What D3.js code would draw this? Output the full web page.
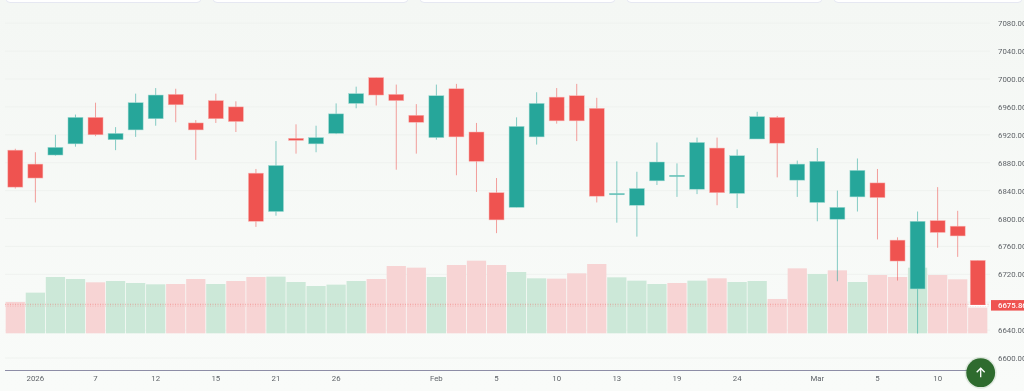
<!DOCTYPE html>
<html>
<head>
<meta charset="utf-8">
<script src="https://cdn.jsdelivr.net/npm/d3@7"></script>
<style>
  html, body { margin: 0; padding: 0; background: #f6f9f6; overflow: hidden; }
  svg { display: block; filter: blur(0.3px); }
  text { font-family: Roboto, "Noto Sans", sans-serif; }
</style>
</head>
<body>
<svg id="chart" width="1024" height="391"></svg>
<script>
const dates = ["Dec 31","Jan 2","Jan 5","Jan 6","Jan 7","Jan 8","Jan 9","Jan 12","Jan 13","Jan 14","Jan 15","Jan 16","Jan 20","Jan 21","Jan 22","Jan 23","Jan 26","Jan 27","Jan 28","Jan 29","Jan 30","Feb 2","Feb 3","Feb 4","Feb 5","Feb 6","Feb 9","Feb 10","Feb 11","Feb 12","Feb 13","Feb 17","Feb 18","Feb 19","Feb 20","Feb 23","Feb 24","Feb 25","Feb 26","Feb 27","Mar 2","Mar 3","Mar 4","Mar 5","Mar 6","Mar 9","Mar 10","Mar 11","Mar 12"];
const open = [6898,6878,6891,6907,6945,6913,6927,6943,6978,6937,6969,6960,6865,6810,6915,6907,6922,6965,7002,6978,6948,6916,6986,6924,6837,6816,6917,6974,6976,6958,6834,6819,6854,6860,6842,6901,6836,6914,6945,6855,6823,6799,6831,6851,6769,6699,6797,6789,6740];
const close = [6845,6858,6902,6945,6920,6922,6966,6977,6963,6927,6943,6939,6796,6876,6912,6916,6950,6979,6977,6969,6938,6976,6917,6882,6798,6932,6965,6940,6940,6832,6836,6843,6881,6862,6909,6837,6890,6946,6908,6878,6882,6816,6869,6830,6739,6796,6780,6775,6675.86];
const high = [6900,6895,6920,6949,6966,6931,6979,6987,6986,6941,6979,6968,6871,6911,6935,6933,6965,6989,7002,6992,6964,6992,6993,6937,6858,6945,6981,6987,6993,6973,6882,6867,6909,6879,6916,6916,6899,6953,6947,6883,6901,6840,6886,6871,6773,6810,6845,6811,6740];
const low = [6843,6823,6890,6903,6918,6898,6917,6933,6938,6884,6937,6924,6788,6804,6893,6895,6921,6958,6962,6870,6893,6913,6862,6838,6779,6816,6906,6936,6911,6823,6794,6774,6848,6831,6835,6819,6815,6914,6859,6831,6796,6710,6810,6770,6711,6635,6758,6745,6675.86];
const volume = [0.94,1.22,1.69,1.63,1.53,1.57,1.51,1.47,1.48,1.63,1.48,1.57,1.69,1.70,1.54,1.42,1.46,1.57,1.63,2.02,1.97,1.69,2.05,2.18,2.05,1.84,1.65,1.64,1.80,2.08,1.68,1.58,1.48,1.51,1.58,1.65,1.54,1.57,1.03,1.95,1.78,1.89,1.54,1.75,1.69,1.97,1.75,1.62,0.77];
const volumeUp = [0,1,1,1,0,1,1,1,0,0,1,0,0,1,1,1,1,1,0,0,0,1,0,0,0,1,1,0,0,0,1,1,1,0,1,0,1,1,0,0,1,0,1,0,0,1,0,0,0];
const priceTicks = [6600,6640,6680,6720,6760,6800,6840,6880,6920,6960,7000,7040,7080];
const dateTicks = ["Jan 2","Jan 7","Jan 12","Jan 15","Jan 21","Jan 26","Feb 2","Feb 5","Feb 10","Feb 13","Feb 19","Feb 24","Mar 2","Mar 5","Mar 10"];
const dateLabels = ["2026","7","12","15","21","26","Feb","5","10","13","19","24","Mar","5","10"];
const lastPrice = 6675.86;
const cardEdges = [[6,201],[213,408],[420,615],[627,822],[834,1022]];

const upColor = "#26a69a", downColor = "#ef5350";
const svg = d3.select("#chart");

// page background, very slightly lighter at the bottom
const grad = svg.append("defs").append("linearGradient")
  .attr("id", "bg").attr("x1", 0).attr("x2", 0).attr("y1", 0).attr("y2", 1);
grad.append("stop").attr("offset", 0).attr("stop-color", "#f4f7f4");
grad.append("stop").attr("offset", 1).attr("stop-color", "#f9fbf9");
svg.append("rect").attr("width", 1024).attr("height", 391).attr("fill", "url(#bg)");

const x = d3.scaleBand().domain(dates).range([5.3, 987.75]).paddingInner(0).paddingOuter(0);
const y = d3.scaleLinear().domain([6600, 7080]).range([358, 23.2]);
const yVol = d3.scaleLinear().domain([0, 2.5]).range([333.3, 250]);
const cx = i => x(dates[i]) + x.bandwidth() / 2;

// cut off cards along the top edge
svg.append("g").selectAll("rect").data(cardEdges).join("rect")
  .attr("x", d => d[0]).attr("y", -10)
  .attr("width", d => d[1] - d[0]).attr("height", 12.5).attr("rx", 4)
  .attr("fill", "#fff").attr("stroke", "#e6e8f2").attr("stroke-width", 1);

// grid
svg.append("g").selectAll("line").data(priceTicks).join("line")
  .attr("x1", 5).attr("x2", 990)
  .attr("y1", d => y(d)).attr("y2", d => y(d))
  .attr("stroke", "#eff2ef").attr("stroke-width", 1);

// volume
svg.append("g").selectAll("rect").data(volume).join("rect")
  .attr("x", (d, i) => x(dates[i]) + 0.4)
  .attr("width", x.bandwidth() - 0.8)
  .attr("y", d => yVol(d))
  .attr("height", d => yVol(0) - yVol(d))
  .attr("fill", (d, i) => volumeUp[i] ? "#cce8d8" : "#f7d4d4");

// last price line
svg.append("line")
  .attr("x1", 5).attr("x2", 990)
  .attr("y1", y(lastPrice) - 0.8).attr("y2", y(lastPrice) - 0.8)
  .attr("stroke", "#ef5350").attr("stroke-opacity", 0.55)
  .attr("stroke-dasharray", "1 1.5").attr("stroke-width", 0.8);
svg.append("line")
  .attr("x1", 5).attr("x2", 990)
  .attr("y1", y(lastPrice) + 1).attr("y2", y(lastPrice) + 1)
  .attr("stroke", "#ef5350").attr("stroke-opacity", 0.3)
  .attr("stroke-dasharray", "1 1.5").attr("stroke-width", 0.8);

// wicks and bodies
const candles = svg.append("g");
candles.selectAll("line").data(dates).join("line")
  .attr("x1", (d, i) => cx(i)).attr("x2", (d, i) => cx(i))
  .attr("y1", (d, i) => y(high[i])).attr("y2", (d, i) => y(low[i]))
  .attr("stroke", (d, i) => close[i] > open[i] ? upColor : downColor)
  .attr("stroke-opacity", 0.55).attr("stroke-width", 1);
candles.selectAll("rect").data(dates).join("rect")
  .attr("x", (d, i) => cx(i) - 7.5)
  .attr("width", 15)
  .attr("y", (d, i) => y(Math.max(open[i], close[i])))
  .attr("height", (d, i) => Math.max(1, Math.abs(y(open[i]) - y(close[i]))))
  .attr("fill", (d, i) => close[i] > open[i] ? upColor : downColor)
  .attr("stroke", (d, i) => close[i] > open[i] ? "#9fd9d2" : "#f9b5b3")
  .attr("stroke-width", 0.5);

// white mark under the last candle
svg.append("line")
  .attr("x1", cx(48) - 10).attr("x2", cx(48) + 10)
  .attr("y1", y(lastPrice) + 0.5).attr("y2", y(lastPrice) + 0.5)
  .attr("stroke", "#fff").attr("stroke-width", 1.2);

// price axis
const yAxis = svg.append("g")
  .attr("transform", "translate(994,0)")
  .call(d3.axisRight(y).tickValues(priceTicks).tickFormat(d3.format(".2f")).tickSize(0).tickPadding(4));
yAxis.select(".domain").remove();
yAxis.selectAll("text").attr("font-size", 7.8).attr("fill", "#5f6368").attr("font-family", "Roboto, sans-serif");

// date axis
const xAxis = svg.append("g")
  .attr("transform", "translate(0,370)")
  .call(d3.axisBottom(x).tickValues(dateTicks)
    .tickFormat(d => dateLabels[dateTicks.indexOf(d)]).tickSize(0).tickPadding(5));
xAxis.select(".domain").attr("stroke", "#8d8da6").attr("stroke-width", 1).attr("d", "M5,0.5H968");
xAxis.selectAll("text").attr("font-size", 7.8).attr("fill", "#5f6368").attr("font-family", "Roboto, sans-serif");

// last price tag
const tag = svg.append("g").attr("transform", `translate(991,${y(lastPrice)})`);
tag.append("rect").attr("x", 0).attr("y", -5).attr("width", 33).attr("height", 10.5).attr("fill", "#ef5350");
tag.append("text").attr("x", 7).attr("y", 3).attr("font-size", 7.8).attr("fill", "#fff").attr("font-weight", 500)
  .text(d3.format(".2f")(lastPrice));

// scroll to top button
const btn = svg.append("g").attr("transform", "translate(980.7,372.7)");
btn.append("circle").attr("r", 16).attr("fill", "#2e6b2e").attr("fill-opacity", 0.12);
btn.append("circle").attr("r", 14.4).attr("fill", "#2e6b2e");
btn.append("path").attr("d", d3.line()([[0, 4.5], [0, -4.5]])).attr("stroke", "#fff").attr("stroke-width", 1.3).attr("fill", "none");
btn.append("path").attr("d", d3.line()([[-4, -0.5], [0, -4.5], [4, -0.5]])).attr("stroke", "#fff").attr("stroke-width", 1.3).attr("fill", "none");
</script>
</body>
</html>
